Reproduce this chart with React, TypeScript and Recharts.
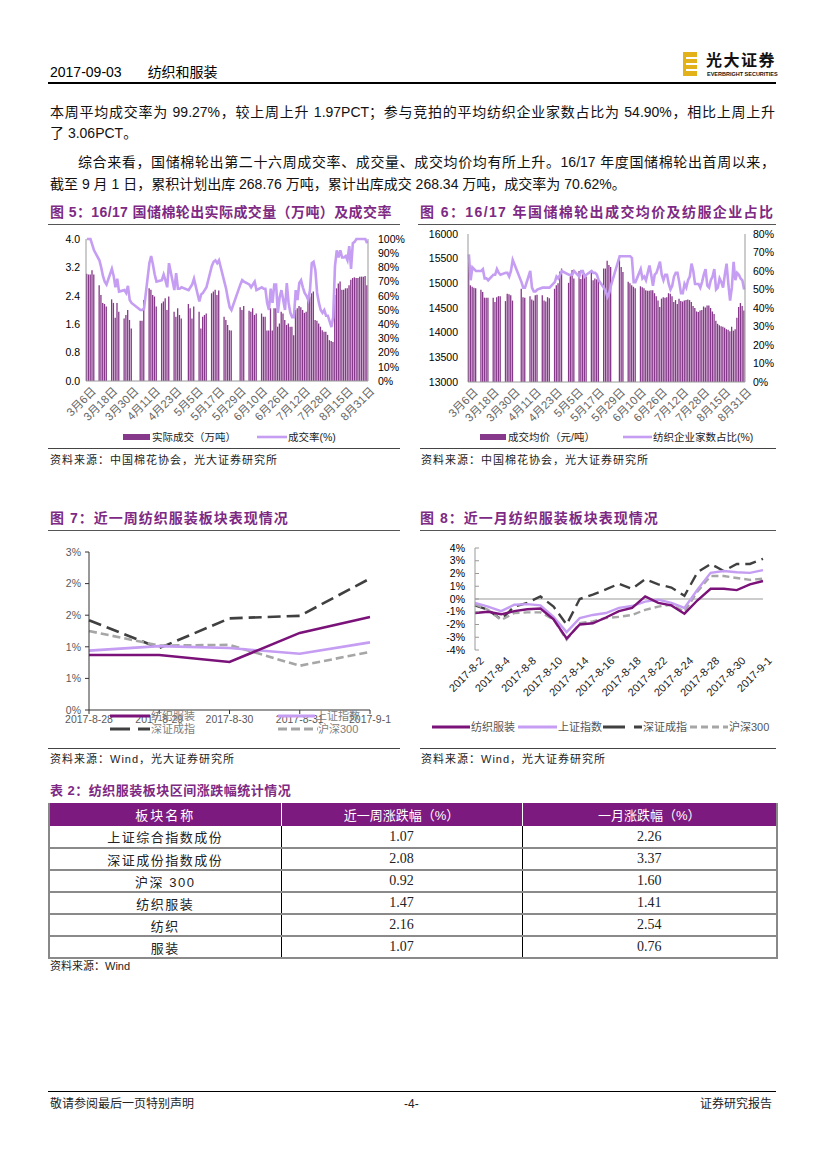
import React from 'react';
import { ComposedChart, LineChart, Bar, Line, XAxis, YAxis, ReferenceLine } from 'recharts';

const FONT = "'Liberation Sans', 'Noto Sans CJK SC', sans-serif";
const TITLE_PURPLE = '#7E2A84';
const BAR_PURPLE = '#86388A';
const LINE_LAVENDER = '#C59DF2';
const DARK_PURPLE = '#7A1279';
const DARK_GRAY = '#404040';
const LIGHT_GRAY = '#A6A6A6';

// ---------- Figure 5 / 6 data ----------
const cottonDates = [
  '3月6日','3月7日','3月8日','3月9日','3月10日','3月11日','3月12日','3月13日','3月14日','3月15日','3月16日','3月17日','3月18日','3月19日',
  '3月20日','3月21日','3月22日','3月23日','3月24日','3月25日','3月26日','3月27日','3月28日','3月29日','3月30日','3月31日',
  '4月1日','4月2日','4月3日','4月4日','4月5日','4月6日','4月7日','4月8日','4月9日','4月10日','4月11日','4月12日','4月13日','4月14日',
  '4月15日','4月16日','4月17日','4月18日','4月19日','4月20日','4月21日','4月22日','4月23日','4月24日','4月25日','4月26日','4月27日',
  '4月28日','4月29日','4月30日',
  '5月1日','5月2日','5月3日','5月4日','5月5日','5月6日','5月7日','5月8日','5月9日','5月10日','5月11日','5月12日','5月13日','5月14日',
  '5月15日','5月16日','5月17日','5月18日','5月19日','5月20日','5月21日','5月22日','5月23日','5月24日','5月25日','5月26日','5月27日',
  '5月28日','5月29日','5月30日','5月31日',
  '6月1日','6月2日','6月3日','6月4日','6月5日','6月6日','6月7日','6月8日','6月9日','6月10日','6月11日',
  '6月12日','6月13日','6月14日','6月15日','6月16日','6月19日','6月20日','6月21日','6月22日','6月23日',
  '6月26日','6月27日','6月28日','6月29日','6月30日',
  '7月3日','7月4日','7月5日','7月6日','7月7日','7月10日','7月11日','7月12日','7月13日','7月14日',
  '7月17日','7月18日','7月19日','7月20日','7月21日','7月24日','7月25日','7月26日','7月27日','7月28日','7月31日',
  '8月1日','8月2日','8月3日','8月4日','8月7日','8月8日','8月9日','8月10日','8月11日','8月14日','8月15日','8月16日','8月17日',
  '8月18日','8月21日','8月22日','8月23日','8月24日','8月25日','8月28日','8月29日','8月30日','8月31日','9月1日',
];

// 实际成交（万吨）
const cottonVolume: (number | null)[] = [
  3.02,3.0,3.0,3.12,3.0,null,null,
  2.7,2.42,2.2,2.17,2.1,null,null,
  2.3,2.2,1.78,2.2,1.95,null,null,
  1.76,1.86,2.0,1.72,1.48,null,null,
  null,null,1.7,1.7,2.28,null,null,
  2.61,2.57,2.42,2.38,2.1,null,null,
  2.19,2.24,2.33,2.0,2.38,null,null,
  1.95,1.81,2.05,1.86,1.76,null,null,
  null,2.17,2.05,1.76,2.1,null,null,
  1.95,1.48,1.81,1.86,1.9,null,null,
  2.47,2.52,2.57,2.42,2.55,null,null,
  1.81,1.72,1.58,1.43,1.42,null,null,
  null,null,2.08,2.0,2.11,null,null,
  1.98,1.95,2.05,1.86,1.9,null,null,
  1.9,1.81,1.81,1.42,1.42,
  2.05,1.42,2.05,2.05,1.53,
  1.62,1.95,1.9,1.72,1.58,
  1.62,1.53,1.53,1.29,2.0,
  2.05,2.11,2.08,2.0,1.92,
  1.95,2.28,2.38,2.47,2.52,
  1.72,1.7,1.62,1.53,1.43,
  1.39,1.39,1.3,1.15,1.13,
  1.1,2.42,2.61,2.75,2.8,
  2.57,2.57,2.61,2.61,2.7,
  2.85,2.9,2.92,2.9,2.9,
  2.94,2.94,2.94,2.96,2.7,
];

// 成交率(%)
const cottonRate: (number | null)[] = [
  100,100,100,96,92,null,null,
  85,80,74,70,68,null,null,
  79,74,66,72,63,null,null,
  64,62,67,57,55,null,null,
  null,null,50,50,51,null,null,
  83,88,82,75,70,null,null,
  71,75,71,66,83,null,null,
  64,76,65,65,66,null,null,
  null,64,66,68,72,null,null,
  56,61,62,64,66,null,null,
  81,84,85,83,85,null,null,
  70,65,58,52,50,null,null,
  null,null,68,71,70,null,null,
  68,66,68,70,64,null,null,
  66,65,65,55,50,
  65,55,68,68,48,
  59,64,57,50,69,
  55,48,45,45,64,
  57,69,71,66,62,
  60,57,64,83,84,
  78,62,55,50,48,
  50,46,46,42,38,
  45,81,92,87,92,
  87,87,88,85,95,
  79,97,98,100,100,
  100,100,100,100,97,
];

// 成交均价（元/吨）
const cottonPrice: (number | null)[] = [
  15440,14960,14930,14910,14900,null,null,
  14870,14825,14710,14710,14710,null,null,
  14710,14620,14720,14740,14740,null,null,
  14640,14790,14780,14760,14650,null,null,
  null,null,14890,14720,14710,null,null,
  14740,14670,14650,14760,14770,null,null,
  14760,14650,14630,14720,14700,null,null,
  14890,14960,15000,15240,15300,null,null,
  null,15010,15145,15270,15100,null,null,
  15250,15090,15180,15210,15140,null,null,
  15230,15060,15100,15080,15090,null,null,
  15300,15300,15460,15370,15330,null,null,
  null,null,15470,15330,15230,null,null,
  15030,15000,14960,14930,14900,null,null,
  14940,14920,14900,14860,14850,
  14850,14860,14860,14800,14740,
  14650,14520,14690,14720,14710,
  14720,14800,14790,14740,14620,
  14660,14580,14690,14640,14630,
  14650,14660,14670,14660,14620,
  14540,14500,14430,14420,14450,
  14460,14530,14510,14550,14550,
  14500,14430,14380,14240,14180,
  14150,14130,14120,14100,14070,
  14060,14030,14120,14040,14070,
  14300,14520,14600,14540,14450,
];

// 纺织企业家数占比(%)
const textileShare: (number | null)[] = [
  69,55,62,61,60,null,null,
  60,61,56,56,55,null,null,
  58,58,61,59,58,null,null,
  59,59,57,60,66,null,null,
  null,null,54,51,51,null,null,
  60,51,49,49,50,null,null,
  51,51,51,51,51,null,null,
  54,57,56,58,60,null,null,
  null,58,58,58,60,null,null,
  57,60,60,57,58,null,null,
  60,59,59,58,55,null,null,
  51,49,46,48,52,null,null,
  null,null,68,68,68,null,null,
  68,68,67,54,54,null,null,
  61,56,57,55,59,
  63,58,52,58,59,
  62,65,58,55,58,
  58,53,50,52,57,
  59,59,54,48,48,
  53,51,55,57,64,
  60,53,53,53,51,
  54,58,61,52,51,
  55,57,61,50,51,
  56,54,51,58,64,
  53,44,51,65,55,
  59,58,56,55,50,
];

const volTicks = [0, 0.8, 1.6, 2.4, 3.2, 4.0];
const rateTicks = [0, 10, 20, 30, 40, 50, 60, 70, 80, 90, 100];
const priceTicks = [13000, 13500, 14000, 14500, 15000, 15500, 16000];
const shareTicks = [0, 10, 20, 30, 40, 50, 60, 70, 80];

// ---------- Figure 7 data ----------
const weekDates = ['2017-8-28', '2017-8-29', '2017-8-30', '2017-8-31', '2017-9-1'];
const weekTextile = [0.87, 0.87, 0.76, 1.22, 1.47];
const weekSH = [0.94, 1.01, 0.98, 0.89, 1.07];
const weekSZ = [1.42, 0.98, 1.45, 1.49, 2.08];
const weekHS300 = [1.25, 1.02, 1.03, 0.70, 0.92];
const weekTicks = [0, 0.5, 1, 1.5, 2, 2.5];

// ---------- Figure 8 data ----------
const monthDates = [
  '2017-8-2','2017-8-3','2017-8-4','2017-8-7','2017-8-8','2017-8-9','2017-8-10','2017-8-11',
  '2017-8-14','2017-8-15','2017-8-16','2017-8-17','2017-8-18','2017-8-21','2017-8-22','2017-8-23',
  '2017-8-24','2017-8-25','2017-8-28','2017-8-29','2017-8-30','2017-8-31','2017-9-1',
];
const monthTextile = [-1.1,-1.0,-1.2,-0.95,-0.8,-0.75,-1.6,-3.1,-2.0,-1.9,-1.45,-0.95,-0.7,0.2,-0.3,-0.5,-1.15,-0.1,0.8,0.8,0.7,1.15,1.41];
const monthSH = [-0.3,-0.6,-0.95,-0.45,-0.4,-0.5,-1.4,-2.6,-1.5,-1.25,-1.1,-0.7,-0.55,-0.2,-0.05,-0.3,-0.7,0.75,2.05,2.2,2.1,2.05,2.26];
const monthSZ = [-0.5,-0.85,-1.6,-0.6,-0.3,0.2,-0.6,-2.0,0.0,0.35,0.75,1.2,0.8,1.55,1.15,0.9,0.25,2.1,2.75,2.2,2.75,2.75,3.15];
const monthHS300 = [-0.4,-0.85,-1.65,-1.1,-1.05,-1.05,-1.6,-3.2,-1.9,-1.75,-1.5,-1.4,-1.25,-0.85,-0.6,-0.45,-1.0,0.6,1.8,1.8,1.65,1.5,1.6];
const monthTicks = [-4, -3, -2, -1, 0, 1, 2, 3, 4];

// ---------- Table 2 data ----------
const tableNames = ['上证综合指数成份', '深证成份指数成份', '沪深 300', '纺织服装', '纺织', '服装'];
const tableWeek = ['1.07', '2.08', '0.92', '1.47', '2.16', '1.07'];
const tableMonth = ['2.26', '3.37', '1.60', '1.41', '2.54', '0.76'];

const cottonData = cottonDates.map((d, i) => ({
  date: d,
  vol: cottonVolume[i],
  rate: cottonRate[i],
  price: cottonPrice[i],
  share: textileShare[i],
}));
const weekData = weekDates.map((d, i) => ({
  date: d, textile: weekTextile[i], sh: weekSH[i], sz: weekSZ[i], hs: weekHS300[i],
}));
const monthData = monthDates.map((d, i) => ({
  date: d, textile: monthTextile[i], sh: monthSH[i], sz: monthSZ[i], hs: monthHS300[i],
}));

const RotTick = (props: any) => {
  const { x, y, payload, fontSize = 10, fill = '#000' } = props;
  return (
    <g transform={`translate(${x + 4},${y + 1})`}>
      <text x={0} y={0} dy="0.71em" textAnchor="end" transform="rotate(-45)" fontSize={fontSize} fill={fill} fontFamily={FONT}>
        {payload.value}
      </text>
    </g>
  );
};

const Abs = ({ x, y, children, style }: any) => (
  <div style={{ position: 'absolute', left: x, top: y, whiteSpace: 'nowrap', ...style }}>{children}</div>
);

const HLine = ({ x1, x2, y, color = '#000', w = 1 }: any) => (
  <div style={{ position: 'absolute', left: x1, top: y, width: x2 - x1, height: w, background: color }} />
);

const LegendLine = ({ x, y, w, color, dash, sw = 3 }: any) => (
  <svg style={{ position: 'absolute', left: x, top: y - 4 }} width={w} height={8}>
    <line x1={0} y1={4} x2={w} y2={4} stroke={color} strokeWidth={sw} strokeDasharray={dash} />
  </svg>
);

const LegendBox = ({ x, y, w, color }: any) => (
  <div style={{ position: 'absolute', left: x, top: y - 3, width: w, height: 6, background: color }} />
);

const axisTick = { fontSize: 10.5, fill: '#000', fontFamily: FONT };
const grayTick = { fontSize: 10.5, fill: '#595959', fontFamily: FONT };

const ChartTitle = ({ x, y, text, x2, ls = 1 }: any) => (
  <>
    <Abs x={x} y={y} style={{ fontSize: 14, fontWeight: 'bold', color: TITLE_PURPLE, letterSpacing: ls, fontFamily: FONT, lineHeight: '18px' }}>
      {text}
    </Abs>
    <HLine x1={x - 2} x2={x2} y={224} color="#555" w={1} />
  </>
);

export default function App() {
  const bodyText: React.CSSProperties = { fontSize: 14, color: '#111', fontFamily: FONT, lineHeight: '20px' };
  return (
    <div style={{ position: 'absolute', left: 0, top: 0, width: 827, height: 1169, background: '#fff', fontFamily: FONT, overflow: 'hidden' }}>
      {/* Header */}
      <Abs x={50} y={63} style={{ fontSize: 14, color: '#000', lineHeight: '18px' }}>
        2017-09-03<span style={{ marginLeft: 26 }}>纺织和服装</span>
      </Abs>
      <HLine x1={48} x2={776} y={82} color="#000" w={1.5} />
      <svg style={{ position: 'absolute', left: 683, top: 52 }} width={16} height={24}>
        <rect x={0} y={0} width={14} height={24} fill="#E3B21A" />
        <rect x={3} y={5} width={11} height={2} fill="#fff" />
        <rect x={3} y={11} width={11} height={2} fill="#fff" />
        <rect x={3} y={17} width={11} height={2} fill="#fff" />
      </svg>
      <Abs x={706} y={50} style={{ fontSize: 16, fontWeight: 'bold', color: '#111', letterSpacing: 1.5, lineHeight: '18px', fontFamily: "'Noto Sans CJK SC', sans-serif" }}>
        光大证券
      </Abs>
      <Abs x={707} y={71} style={{ fontSize: 5.5, fontWeight: 'bold', color: '#111', lineHeight: '6px' }}>
        EVERBRIGHT SECURITIES
      </Abs>

      {/* Paragraphs */}
      <div style={{ ...bodyText, position: 'absolute', left: 50, top: 102, width: 725, textAlign: 'justify', textAlignLast: 'justify' }}>
        本周平均成交率为 99.27%，较上周上升 1.97PCT；参与竞拍的平均纺织企业家数占比为 54.90%，相比上周上升
      </div>
      <Abs x={50} y={123} style={bodyText}>了 3.06PCT。</Abs>
      <div style={{ ...bodyText, position: 'absolute', left: 78, top: 152, width: 697, textAlign: 'justify', textAlignLast: 'justify' }}>
        综合来看，国储棉轮出第二十六周成交率、成交量、成交均价均有所上升。16/17 年度国储棉轮出首周以来，
      </div>
      <Abs x={50} y={174} style={bodyText}>
        截至 9 月 1 日，累积计划出库 268.76 万吨，累计出库成交 268.34 万吨，成交率为 70.62%。
      </Abs>

      {/* Figure 5 */}
      <ChartTitle x={50} y={203} x2={400} ls={0.4} text="图 5：16/17 国储棉轮出实际成交量（万吨）及成交率" />
      <div style={{ position: 'absolute', left: 40, top: 225 }}>
        <ComposedChart width={370} height={206} data={cottonData} margin={{ top: 14, right: 4, left: 6, bottom: 0 }}>
          <XAxis dataKey="date" interval={11} tick={<RotTick fontSize={11.5} />} tickLine={false} tickSize={2}
            axisLine={{ stroke: '#999' }} height={50} />
          <YAxis yAxisId="l" domain={[0, 4]} ticks={volTicks} tickFormatter={(v: number) => v.toFixed(1)} width={40}
            tick={axisTick} tickLine={false} tickSize={0} tickMargin={6} axisLine={{ stroke: '#999' }} interval={0} />
          <YAxis yAxisId="r" orientation="right" domain={[0, 100]} ticks={rateTicks} tickFormatter={(v: number) => v + '%'} width={38}
            tick={axisTick} tickLine={false} tickSize={0} tickMargin={10} axisLine={{ stroke: '#999' }} interval={0} />
          <Bar yAxisId="l" dataKey="vol" fill={BAR_PURPLE} barSize={1.3} isAnimationActive={false} />
          <Line yAxisId="r" dataKey="rate" stroke={LINE_LAVENDER} strokeWidth={2.6} dot={false} activeDot={false}
            connectNulls isAnimationActive={false} />
        </ComposedChart>
      </div>
      <LegendBox x={123} y={437} w={27} color={BAR_PURPLE} />
      <Abs x={152} y={430} style={{ fontSize: 10.5, color: '#222', lineHeight: '14px' }}>实际成交（万吨）</Abs>
      <LegendLine x={257} y={437} w={30} color={LINE_LAVENDER} sw={2.6} />
      <Abs x={288} y={430} style={{ fontSize: 10.5, color: '#222', lineHeight: '14px' }}>成交率(%)</Abs>
      <HLine x1={48} x2={400} y={448} color="#444" w={1} />
      <Abs x={50} y={453} style={{ fontSize: 11, color: '#222', lineHeight: '15px', letterSpacing: 1 }}>资料来源：中国棉花协会，光大证券研究所</Abs>

      {/* Figure 6 */}
      <ChartTitle x={420} y={203} x2={776} ls={1.4} text="图 6：16/17 年国储棉轮出成交均价及纺服企业占比" />
      <div style={{ position: 'absolute', left: 415, top: 222 }}>
        <ComposedChart width={370} height={210} data={cottonData} margin={{ top: 12, right: 0, left: 8, bottom: 0 }}>
          <XAxis dataKey="date" interval={11} tick={<RotTick fontSize={11.5} />} tickLine={false} tickSize={2}
            axisLine={{ stroke: '#999' }} height={50} />
          <YAxis yAxisId="l" domain={[13000, 16000]} ticks={priceTicks} width={45}
            tick={axisTick} tickLine={false} tickSize={0} tickMargin={10} axisLine={{ stroke: '#999' }} interval={0} />
          <YAxis yAxisId="r" orientation="right" domain={[0, 80]} ticks={shareTicks} tickFormatter={(v: number) => v + '%'} width={40}
            tick={axisTick} tickLine={false} tickSize={0} tickMargin={8} axisLine={{ stroke: '#999' }} interval={0} />
          <Bar yAxisId="l" dataKey="price" fill={BAR_PURPLE} barSize={1.3} isAnimationActive={false} />
          <Line yAxisId="r" dataKey="share" stroke={LINE_LAVENDER} strokeWidth={2.6} dot={false} activeDot={false}
            connectNulls isAnimationActive={false} />
        </ComposedChart>
      </div>
      <LegendBox x={480} y={437} w={26} color={BAR_PURPLE} />
      <Abs x={508} y={430} style={{ fontSize: 10.5, color: '#222', lineHeight: '14px' }}>成交均价（元/吨）</Abs>
      <LegendLine x={623} y={437} w={29} color={LINE_LAVENDER} sw={2.6} />
      <Abs x={653} y={430} style={{ fontSize: 10.5, color: '#222', lineHeight: '14px' }}>纺织企业家数占比(%)</Abs>
      <HLine x1={420} x2={776} y={448} color="#444" w={1} />
      <Abs x={421} y={453} style={{ fontSize: 11, color: '#222', lineHeight: '15px', letterSpacing: 1 }}>资料来源：中国棉花协会，光大证券研究所</Abs>

      {/* Figure 7 */}
      <Abs x={50} y={509} style={{ fontSize: 14, fontWeight: 'bold', color: TITLE_PURPLE, letterSpacing: 1, lineHeight: '18px' }}>
        图 7：近一周纺织服装板块表现情况
      </Abs>
      <HLine x1={48} x2={400} y={530} color="#555" w={1} />
      <div style={{ position: 'absolute', left: 40, top: 540 }}>
        <LineChart width={370} height={200} data={weekData} margin={{ top: 12, right: 40, left: 9, bottom: 0 }}>
          <XAxis dataKey="date" tick={grayTick} tickSize={4} tickMargin={2} axisLine={{ stroke: '#333' }}
            tickLine={{ stroke: '#333' }} height={30} interval={0} />
          <YAxis domain={[0, 2.5]} ticks={weekTicks} tickFormatter={(v: number) => Math.round(v) + '%'} width={40}
            tick={grayTick} tickSize={4} tickMargin={4} axisLine={{ stroke: '#333' }} tickLine={{ stroke: '#333' }} interval={0} />
          <Line dataKey="sz" stroke={DARK_GRAY} strokeWidth={2.6} strokeDasharray="13 6" dot={false} activeDot={false} isAnimationActive={false} />
          <Line dataKey="hs" stroke={LIGHT_GRAY} strokeWidth={2.6} strokeDasharray="8 4" dot={false} activeDot={false} isAnimationActive={false} />
          <Line dataKey="sh" stroke={LINE_LAVENDER} strokeWidth={2.6} dot={false} activeDot={false} isAnimationActive={false} />
          <Line dataKey="textile" stroke={DARK_PURPLE} strokeWidth={2.6} dot={false} activeDot={false} isAnimationActive={false} />
        </LineChart>
      </div>
      <LegendLine x={110} y={716} w={40} color={DARK_PURPLE} sw={3} />
      <Abs x={151} y={709} style={{ fontSize: 11, color: '#808080', lineHeight: '14px' }}>纺织服装</Abs>
      <LegendLine x={278} y={716} w={37} color={LINE_LAVENDER} sw={3} />
      <Abs x={316} y={709} style={{ fontSize: 11, color: '#808080', lineHeight: '14px' }}>上证指数</Abs>
      <LegendLine x={110} y={729} w={40} color={DARK_GRAY} sw={3} dash="20 8" />
      <Abs x={151} y={722} style={{ fontSize: 11, color: '#808080', lineHeight: '14px' }}>深证成指</Abs>
      <LegendLine x={278} y={729} w={40} color={LIGHT_GRAY} sw={3} dash="9 4" />
      <Abs x={318} y={722} style={{ fontSize: 11, color: '#808080', lineHeight: '14px' }}>沪深300</Abs>
      <HLine x1={48} x2={400} y={748} color="#444" w={1} />
      <Abs x={50} y={752} style={{ fontSize: 11, color: '#222', lineHeight: '15px', letterSpacing: 1 }}>资料来源：Wind，光大证券研究所</Abs>

      {/* Figure 8 */}
      <Abs x={420} y={509} style={{ fontSize: 14, fontWeight: 'bold', color: TITLE_PURPLE, letterSpacing: 1, lineHeight: '18px' }}>
        图 8：近一月纺织服装板块表现情况
      </Abs>
      <HLine x1={420} x2={776} y={530} color="#555" w={1} />
      <div style={{ position: 'absolute', left: 415, top: 535 }}>
        <ComposedChart width={370} height={175} data={monthData} margin={{ top: 13, right: 22, left: 20, bottom: 0 }}>
          <XAxis dataKey="date" interval={1} tick={<RotTick fontSize={11} fill="#222" />} tickLine={false} axisLine={false}
            tickSize={3} height={60} />
          <YAxis domain={[-4, 4]} ticks={monthTicks} tickFormatter={(v: number) => v + '%'} width={40}
            tick={{ ...axisTick, fontSize: 10.5 }} tickSize={-4} tickMargin={14} axisLine={{ stroke: '#999' }}
            tickLine={{ stroke: '#999' }} interval={0} />
          <ReferenceLine y={0} stroke="#999" strokeWidth={1} />
          <Line dataKey="sz" stroke={DARK_GRAY} strokeWidth={2.4} strokeDasharray="11 6" dot={false} activeDot={false} isAnimationActive={false} />
          <Line dataKey="hs" stroke={LIGHT_GRAY} strokeWidth={2.4} strokeDasharray="7 4" dot={false} activeDot={false} isAnimationActive={false} />
          <Line dataKey="sh" stroke={LINE_LAVENDER} strokeWidth={2.4} dot={false} activeDot={false} isAnimationActive={false} />
          <Line dataKey="textile" stroke={DARK_PURPLE} strokeWidth={2.4} dot={false} activeDot={false} isAnimationActive={false} />
        </ComposedChart>
      </div>
      <LegendLine x={432} y={727} w={38} color={DARK_PURPLE} sw={3} />
      <Abs x={471} y={720} style={{ fontSize: 11, color: '#555', lineHeight: '14px' }}>纺织服装</Abs>
      <LegendLine x={518} y={727} w={39} color={LINE_LAVENDER} sw={3} />
      <Abs x={558} y={720} style={{ fontSize: 11, color: '#555', lineHeight: '14px' }}>上证指数</Abs>
      <LegendLine x={603} y={727} w={39} color={DARK_GRAY} sw={3} dash="22 9" />
      <Abs x={643} y={720} style={{ fontSize: 11, color: '#555', lineHeight: '14px' }}>深证成指</Abs>
      <LegendLine x={690} y={727} w={38} color={LIGHT_GRAY} sw={3} dash="7 4" />
      <Abs x={729} y={720} style={{ fontSize: 11, color: '#555', lineHeight: '14px' }}>沪深300</Abs>
      <HLine x1={420} x2={776} y={748} color="#444" w={1} />
      <Abs x={421} y={752} style={{ fontSize: 11, color: '#222', lineHeight: '15px', letterSpacing: 1 }}>资料来源：Wind，光大证券研究所</Abs>

      {/* Table 2 */}
      <Abs x={50} y={782} style={{ fontSize: 13, fontWeight: 'bold', color: TITLE_PURPLE, letterSpacing: 0.5, lineHeight: '18px' }}>
        表 2：纺织服装板块区间涨跌幅统计情况
      </Abs>
      <table style={{ position: 'absolute', left: 48, top: 803, width: 728, borderCollapse: 'collapse', fontSize: 13, tableLayout: 'fixed' }}>
        <colgroup>
          <col style={{ width: 232 }} />
          <col style={{ width: 241 }} />
          <col style={{ width: 255 }} />
        </colgroup>
        <thead>
          <tr style={{ background: '#7D1A7F', color: '#fff', height: 23 }}>
            <th style={{ fontWeight: 'normal', borderLeft: '2px solid #888', borderRight: '1px solid #fff', letterSpacing: 2 }}>板块名称</th>
            <th style={{ fontWeight: 'normal', borderRight: '1px solid #fff' }}>近一周涨跌幅（%）</th>
            <th style={{ fontWeight: 'normal', borderRight: '2px solid #888' }}>一月涨跌幅（%）</th>
          </tr>
        </thead>
        <tbody>
          {tableNames.map((n, i) => (
            <tr key={n} style={{ height: 22, borderBottom: '2px solid #8a8a8a' }}>
              <td style={{ textAlign: 'center', borderLeft: '2px solid #888', borderRight: '1px solid #000', color: '#222', letterSpacing: 1.5, padding: 0 }}>{n}</td>
              <td style={{ textAlign: 'center', borderRight: '1px solid #000', color: '#222', fontFamily: "'Liberation Serif', serif", fontSize: 14, padding: 0 }}>{tableWeek[i]}</td>
              <td style={{ textAlign: 'center', borderRight: '2px solid #888', color: '#222', fontFamily: "'Liberation Serif', serif", fontSize: 14, padding: 0 }}>{tableMonth[i]}</td>
            </tr>
          ))}
        </tbody>
      </table>
      <Abs x={50} y={959} style={{ fontSize: 11, color: '#222', lineHeight: '15px' }}>资料来源：Wind</Abs>

      {/* Footer */}
      <HLine x1={48} x2={776} y={1091} color="#000" w={1} />
      <Abs x={50} y={1096} style={{ fontSize: 12, color: '#222', lineHeight: '16px' }}>敬请参阅最后一页特别声明</Abs>
      <Abs x={404} y={1096} style={{ fontSize: 12, color: '#222', lineHeight: '16px' }}>-4-</Abs>
      <Abs x={700} y={1096} style={{ fontSize: 12, color: '#222', lineHeight: '16px' }}>证券研究报告</Abs>
    </div>
  );
}
